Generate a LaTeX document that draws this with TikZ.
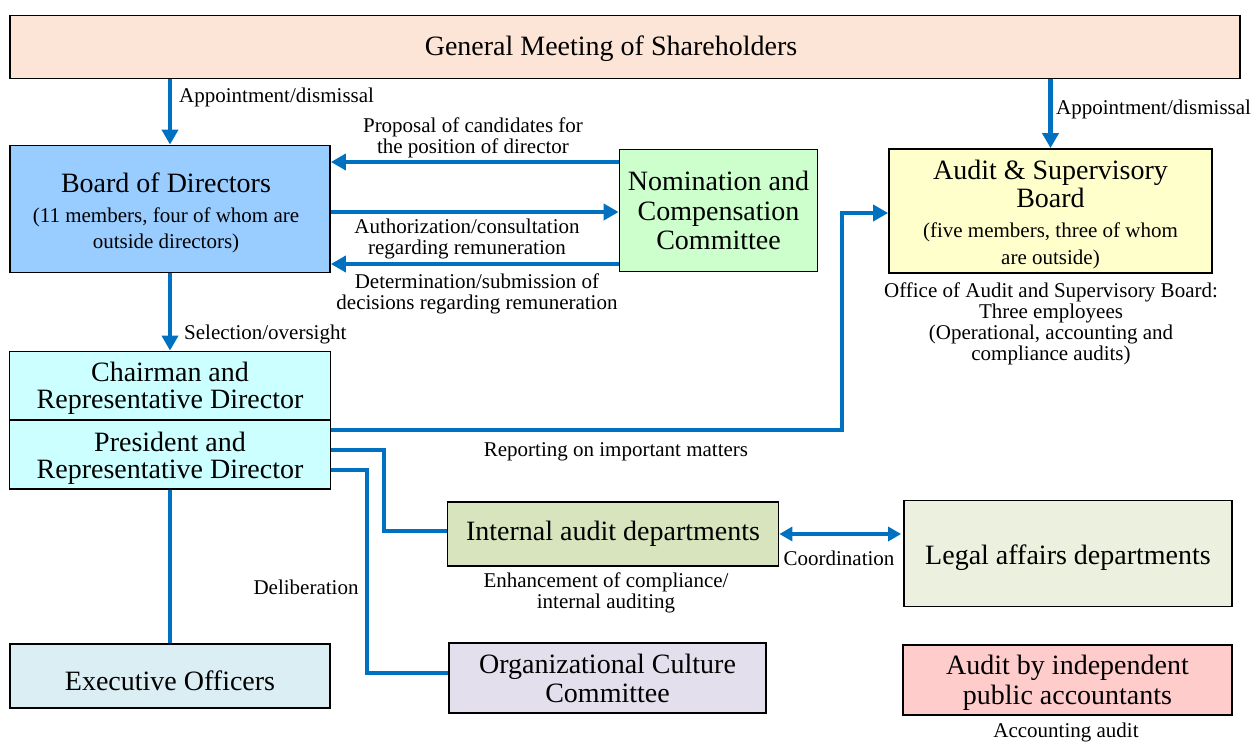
\documentclass[tikz,border=0pt]{standalone}
\usepackage{fontspec}
\setmainfont{Liberation Serif}
\usetikzlibrary{arrows.meta}
\definecolor{arrblue}{HTML}{0070C0}
\definecolor{cGM}{HTML}{FCE4D6}
\definecolor{cBOD}{HTML}{99CCFF}
\definecolor{cNCC}{HTML}{CCFFCC}
\definecolor{cASB}{HTML}{FFFFCC}
\definecolor{cCHR}{HTML}{CCFFFF}
\definecolor{cIAD}{HTML}{D7E4BD}
\definecolor{cLAD}{HTML}{EBF1DE}
\definecolor{cEXO}{HTML}{DAEEF3}
\definecolor{cOCC}{HTML}{E4DFEC}
\definecolor{cIPA}{HTML}{FFCCCC}
\newcommand\fBig{\fontsize{28}{28}\selectfont}
\newcommand\fMid{\fontsize{21}{26}\selectfont}
\newcommand\fSm{\fontsize{21}{21}\selectfont}
\begin{document}
\begin{tikzpicture}[x=1pt,y=-1pt,
  box/.style={draw=black, line width=1.8pt, inner sep=0pt, align=center, font=\fBig},
  arr/.style={draw=arrblue, line width=4.5pt, -{Triangle[length=15pt,width=16pt]}},
  darr/.style={draw=arrblue, line width=4.5pt, {Triangle[length=13pt,width=14pt]}-{Triangle[length=13pt,width=14pt]}},
  conn/.style={draw=arrblue, line width=4.5pt},
  lbl/.style={inner sep=0pt, align=center, font=\fSm}]
\useasboundingbox (0,0) rectangle (1255,744);
% boxes
\node[box, fill=cGM, minimum width=1230pt, minimum height=63pt, text depth=3pt] (gm) at (625,47) {General Meeting of Shareholders\hspace*{28pt}};
\node[box, fill=cBOD, minimum width=320pt, minimum height=127pt] (bod) at (170,209) {};
\node[inner sep=0pt, align=center, font=\fMid] (bodt) at (166,212.5) {{\fBig Board of Directors}\\[4pt](11 members, four of whom are\\outside directors)};
\node[box, fill=cNCC, minimum width=198pt, minimum height=122pt, font=\fontsize{28}{29.5}\selectfont] (ncc) at (718.5,210.5) {Nomination and\\Compensation\\Committee};
\node[box, fill=cASB, minimum width=323pt, minimum height=124pt] (asb) at (1050.5,211) {};
\node[inner sep=0pt, align=center, font=\fontsize{21}{27}\selectfont] (asbt) at (1050.5,214.5) {{\fBig Audit \& Supervisory}\\[1pt]{\fBig Board}\\[3pt](five members, three of whom\\are outside)};
\node[box, fill=cCHR, minimum width=321pt, minimum height=69pt, font=\fontsize{28}{27}\selectfont] (chair) at (170,386) {\rule{0pt}{24pt}Chairman and\\Representative Director};
\node[box, fill=cCHR, minimum width=321pt, minimum height=68.5pt, font=\fontsize{28}{27}\selectfont] (pres) at (170,454.5) {\rule{0pt}{26pt}President and\\Representative Director};
\node[box, fill=cIAD, minimum width=331pt, minimum height=64pt] (iad) at (613,534) {Internal audit departments};
\node[box, fill=cLAD, minimum width=328pt, minimum height=106pt, text height=28pt, text depth=6pt] (lad) at (1068,553.5) {Legal affairs departments};
\node[box, fill=cEXO, minimum width=320pt, minimum height=64pt, text height=28pt, text depth=0pt] (exo) at (170,676) {Executive Officers};
\node[box, fill=cOCC, minimum width=317pt, minimum height=70pt, font=\fontsize{28}{29}\selectfont] (occ) at (607.5,678) {Organizational Culture\\Committee};
\node[box, fill=cIPA, minimum width=329pt, minimum height=70pt, font=\fontsize{28}{30}\selectfont] (ipa) at (1067.5,680) {\rule{0pt}{25pt}Audit by independent\\public accountants};
% labels
\node[lbl, anchor=west] (l1) at (179,97) {Appointment/dismissal};
\node[lbl, anchor=west] (l2) at (1056,109) {Appointment/dismissal};
\node[lbl] (l3) at (473,138) {Proposal of candidates for\\the position of director};
\node[lbl] (l4) at (467,239) {Authorization/consultation\\regarding remuneration};
\node[lbl] (l5) at (477,294) {Determination/submission of\\decisions regarding remuneration};
\node[lbl, anchor=west] (l6) at (184,334) {Selection/oversight};
\node[lbl] (l7) at (1051,324) {Office of Audit and Supervisory Board:\\Three employees\\(Operational, accounting and\\compliance audits)};
\node[lbl] (l8) at (616,451.5) {Reporting on important matters};
\node[lbl] (l9) at (306,587) {Deliberation};
\node[lbl] (l10) at (606,592.5) {Enhancement of compliance/\\internal auditing};
\node[lbl] (l11) at (839,558) {Coordination};
\node[lbl] (l12) at (1066,732.5) {Accounting audit};
% connectors
\draw[arr] (bod.north |- gm.south) -- (bod.north);
\draw[arr] (asb.north |- gm.south) -- (asb.north);
\draw[arr] (ncc.west |- 0,162) -- (bod.east |- 0,162);
\draw[arr] (bod.east |- 0,212) -- (ncc.west |- 0,212);
\draw[arr] (ncc.west |- 0,264) -- (bod.east |- 0,264);
\draw[arr] (bod.south) -- (chair.north);
\draw[arr] (pres.east |- 0,430) -| (842,300) |- (asb.west |- 0,213);
\draw[conn] (pres.east |- 0,450) -| (384,500) |- (iad.west |- 0,531);
\draw[conn] (pres.east |- 0,470) -| (367,600) |- (occ.west |- 0,673);
\draw[conn] (pres.south) -- (exo.north);
\draw[darr, shorten >=2pt] (iad.east |- 0,534) -- (lad.west |- 0,534);
\end{tikzpicture}
\end{document}
